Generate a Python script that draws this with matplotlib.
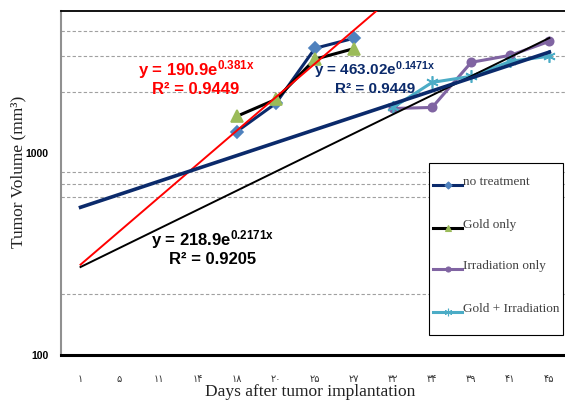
import matplotlib
matplotlib.use('Agg')
import matplotlib.pyplot as plt
from matplotlib.lines import Line2D
from matplotlib.patches import Rectangle
import numpy as np

plt.rcParams['mathtext.fontset'] = 'custom'
plt.rcParams['mathtext.rm'] = 'Liberation Sans:bold'
plt.rcParams['mathtext.default'] = 'rm'

# x categories (days, Persian digits as in the original)
days = ['۱', '۵', '۱۱', '۱۴', '۱۸', '۲۰', '۲۵', '۲۷', '۳۲', '۳۴', '۳۹', '۴۱', '۴۵']

# series: category index -> tumor volume (mm3)
no_treat_x = [5, 6, 7, 8]
no_treat_y = [1270, 1750, 3270, 3670]
gold_x = [5, 6, 7, 8]
gold_y = [1510, 1830, 2890, 3260]
irr_x = [9, 10, 11, 12, 13]
irr_y = [1650, 1670, 2790, 3020, 3540]
gold_irr_x = [9, 10, 11, 12, 13]
gold_irr_y = [1670, 2220, 2380, 2820, 2990]

# exponential trend lines y = a * exp(b x), as printed on the chart
trend_red = (190.9, 0.381)
trend_black = (218.9, 0.2171)
trend_navy = (463.02, 0.1471)

grid_vals = [200, 600, 700, 800, 2000, 3000, 4000]

W, H = 565, 401
fig = plt.figure(figsize=(5.65, 4.01), dpi=100)
ax = fig.add_axes([61 / W, 1 - 355 / H, 1 - 61 / W, (355 - 11) / H])
ax.set_yscale('log')
ax.set_ylim(100, 5000)
ax.set_xlim(0.5, 13.4)

for g in grid_vals:
    ax.axhline(g, color='#a0a0a0', lw=0.8, ls=(0, (3, 2)), zorder=0)

navy = '#0b2a6b'
series = [
    (no_treat_x, no_treat_y, navy, 'D', 6, '#4f81bd', 'no treatment'),
    (gold_x, gold_y, 'black', '^', 8, '#9bbb59', 'Gold only'),
    (irr_x, irr_y, '#8064a2', 'o', 6, '#8064a2', 'Irradiation only'),
    (gold_irr_x, gold_irr_y, '#4bacc6', (6, 2, 0), 9, '#4bacc6', 'Gold + Irradiation'),
]
for xs, ys, lc, mk, ms, mc, lab in series:
    ax.plot(xs, ys, color=lc, lw=2.2, marker=mk, ms=ms, mfc=mc, mec=mc,
            mew=1.2, zorder=4)

tx = np.array([1, 13])
for (a, b), c, lw in [(trend_red, 'red', 1.4), (trend_black, 'black', 1.4),
                      (trend_navy, navy, 2.6)]:
    ax.plot(tx, a * np.exp(b * tx), color=c, lw=lw, zorder=5)

ax.set_xticks(range(1, 14))
ax.set_xticklabels(days, fontsize=7, family=['DejaVu Sans'], color='#333333')
ax.tick_params(axis='x', length=0, pad=14)
ax.set_yticks([100, 1000])
ax.set_yticklabels(['100', '1000'], fontsize=7.5, fontweight='bold',
                   family='Liberation Sans')
ax.yaxis.set_minor_formatter(matplotlib.ticker.NullFormatter())
ax.tick_params(axis='y', which='both', length=0, pad=9)

ax.spines['left'].set_color('#909090')
ax.spines['left'].set_linewidth(1.5)
ax.spines['bottom'].set_linewidth(2.2)
ax.spines['top'].set_linewidth(1.3)
ax.spines['right'].set_visible(False)

fig.text(18 / W, 1 - 172 / H, 'Tumor Volume (mm³)', rotation=90,
         ha='center', va='center', fontsize=12.5, family='Liberation Serif',
         color='#222222')
fig.text(310 / W, 1 - 392 / H, 'Days after tumor implantation',
         ha='center', va='center', fontsize=12.5, family='Liberation Serif',
         color='#222222')

def eq(x, y, a, b, r2, col, fs):
    fig.text(x / W, 1 - y / H, 'y = %se$^{%sx}$' % (a, b), ha='center',
             va='center', fontsize=fs, color=col, fontweight='bold',
             family='Liberation Sans')
    fig.text(x / W, 1 - (y + 19) / H, 'R² = %s' % r2, ha='center',
             va='center', fontsize=fs, color=col, fontweight='bold',
             family='Liberation Sans')

eq(196, 70, '190.9', '0.381', '0.9449', 'red', 12)
eq(375, 70, '463.02', '0.1471', '0.9449', navy, 11)
eq(213, 240, '218.9', '0.2171', '0.9205', 'black', 12)

# legend drawn by hand to match the box layout
fig.add_artist(Rectangle((429 / W, 1 - 335 / H), (563 - 429) / W, (335 - 163) / H,
                         transform=fig.transFigure, fill=True, fc='white',
                         ec='black', lw=0.8, zorder=6))
row_y = [185, 228, 269, 312]
for (xs, ys, lc, mk, ms, mc, lab), ry in zip(series, row_y):
    yy = 1 - ry / H
    fig.add_artist(Line2D([433 / W, 462 / W], [yy, yy], transform=fig.transFigure,
                          color=lc, lw=2.2, zorder=7))
    fig.add_artist(Line2D([447.5 / W], [yy], transform=fig.transFigure,
                          marker=mk, ms=ms * 0.6, mfc=mc, mec=mc, mew=0.8,
                          ls='none', zorder=8))
    fig.text(463 / W, yy + 3 / H, lab, ha='left', va='center', fontsize=9.5,
             family='Liberation Serif', color='#404040', zorder=8)

fig.savefig('out.png', dpi=100)
